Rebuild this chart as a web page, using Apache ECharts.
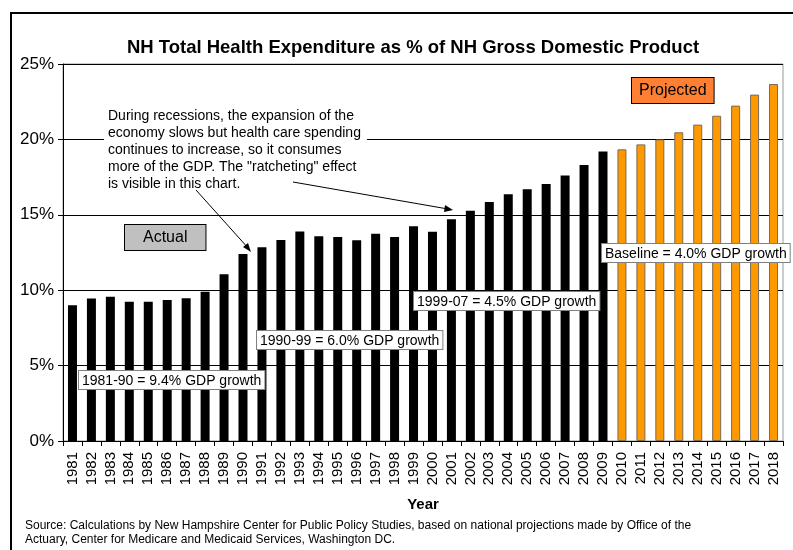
<!DOCTYPE html>
<html>
<head>
<meta charset="utf-8">
<script src="https://cdn.jsdelivr.net/npm/echarts@6/dist/echarts.min.js"></script>
<style>
  html, body { margin: 0; padding: 0; background: #fff; }
  #chart { width: 793px; height: 550px; }
</style>
</head>
<body>
<div id="chart"></div>
<script>
// years on the x axis
const years = [
  "1981", "1982", "1983", "1984", "1985", "1986", "1987", "1988", "1989", "1990",
  "1991", "1992", "1993", "1994", "1995", "1996", "1997", "1998", "1999", "2000",
  "2001", "2002", "2003", "2004", "2005", "2006", "2007", "2008", "2009",
  "2010", "2011", "2012", "2013", "2014", "2015", "2016", "2017", "2018"
];
// actual share of GDP, 1981-2009 (%)
const actualValues = [
  9.0, 9.45, 9.57, 9.24, 9.24, 9.35, 9.46, 9.9, 11.05, 12.4,
  12.84, 13.33, 13.9, 13.57, 13.53, 13.31, 13.75, 13.53, 14.24, 13.88,
  14.7, 15.27, 15.85, 16.36, 16.69, 17.04, 17.6, 18.3, 19.19
];
// projected share of GDP, 2010-2018 (%)
const projectedValues = [19.34, 19.67, 20.0, 20.47, 20.98, 21.57, 22.24, 22.97, 23.67];

const font = "'Liberation Sans', Arial, sans-serif";

// 实际值黑色，预测值橙色
const barData = actualValues.map((v) => ({
  value: v,
  itemStyle: { color: "#000000" },
})).concat(projectedValues.map((v) => ({
  value: v,
  itemStyle: { color: "#FF9900", borderColor: "#7a6a55", borderWidth: 1 },
})));

const labelBox = (left, top, text, extra) => ({
  type: "text",
  left: left,
  top: top,
  z: 10,
  style: Object.assign({
    text: text,
    font: "14px " + font,
    fill: "#000",
    backgroundColor: "#fff",
    borderColor: "#808080",
    borderWidth: 1,
    padding: [3, 3, 1, 3],
  }, extra || {}),
});

const myChart = echarts.init(document.getElementById("chart"));
const option = {
  animation: false,
  title: {
    text: "NH Total Health Expenditure as % of NH Gross Domestic Product",
    left: 408,
    top: 33,
    textAlign: "center",
    textStyle: { fontFamily: font, fontSize: 18.5, fontWeight: "bold", color: "#000" },
  },
  grid: {
    left: 63,
    right: 10,
    top: 64,
    bottom: 109,
    show: true,
    borderColor: "#999",
    borderWidth: 1,
  },
  xAxis: {
    type: "category",
    data: years,
    name: "Year",
    nameLocation: "middle",
    nameGap: 56,
    nameTextStyle: { fontFamily: font, fontSize: 15, fontWeight: "bold", color: "#000" },
    axisLine: { lineStyle: { color: "#000", width: 1 } },
    axisTick: { show: true, length: 5, lineStyle: { color: "#000" } },
    axisLabel: {
      interval: 0,
      rotate: 90,
      margin: 11,
      fontFamily: font,
      fontSize: 15,
      color: "#000",
    },
  },
  yAxis: {
    type: "value",
    min: 0,
    max: 25,
    interval: 5,
    axisLine: { show: true, lineStyle: { color: "#000", width: 1 } },
    axisTick: { show: true, length: 5, lineStyle: { color: "#000" } },
    axisLabel: {
      formatter: "{value}%",
      margin: 9,
      fontFamily: font,
      fontSize: 17,
      color: "#000",
    },
    splitLine: { show: true, lineStyle: { color: "#000", width: 1 } },
  },
  series: [
    {
      type: "bar",
      barWidth: 9,
      data: barData,
    },
  ],
  graphic: [
    // 外框
    {
      type: "rect",
      shape: { x: 11, y: 13, width: 800, height: 560 },
      style: { fill: "none", stroke: "#000", lineWidth: 2 },
      silent: true,
    },
    // 说明文字
    {
      type: "text",
      left: 104,
      top: 108,
      z: 10,
      style: {
        text: "During recessions, the expansion of the\neconomy slows but health care spending\ncontinues to increase, so it consumes\nmore of the GDP. The \"ratcheting\" effect\nis visible in this chart.",
        font: "14px " + font,
        lineHeight: 17,
        fill: "#000",
        backgroundColor: "#fff",
        padding: [0, 6, 0, 4],
      },
    },
    {
      type: "line",
      z: 10,
      shape: { x1: 196, y1: 190, x2: 249, y2: 249 },
      style: { stroke: "#000", lineWidth: 1 },
    },
    {
      type: "polygon",
      z: 10,
      shape: { points: [[251, 252], [243, 247], [248, 243]] },
      style: { fill: "#000" },
    },
    {
      type: "line",
      z: 10,
      shape: { x1: 293, y1: 182, x2: 448, y2: 209 },
      style: { stroke: "#000", lineWidth: 1 },
    },
    {
      type: "polygon",
      z: 10,
      shape: { points: [[453, 210], [444, 212], [445, 205]] },
      style: { fill: "#000" },
    },
    // Actual / Projected
    labelBox(124, 224, "Actual", {
      font: "16px " + font,
      backgroundColor: "#C0C0C0",
      borderColor: "#000",
      padding: [5, 18, 4, 18],
    }),
    labelBox(631, 77, "Projected", {
      font: "16px " + font,
      backgroundColor: "#FF8033",
      borderColor: "#000",
      padding: [5, 7, 4, 7],
    }),
    // 各时期增长率
    labelBox(78, 370, "1981-90 = 9.4% GDP growth"),
    labelBox(256, 330, "1990-99 = 6.0% GDP growth"),
    labelBox(413, 291, "1999-07 = 4.5% GDP growth"),
    labelBox(601, 243, "Baseline = 4.0% GDP growth"),
    // 数据来源
    {
      type: "text",
      left: 25,
      top: 519,
      style: {
        text: "Source: Calculations by New Hampshire Center for Public Policy Studies, based on national projections made by Office of the\nActuary, Center for Medicare and Medicaid Services, Washington DC.",
        font: "12px " + font,
        lineHeight: 14,
        fill: "#000",
      },
    },
  ],
};

option && myChart.setOption(option);
</script>
</body>
</html>
